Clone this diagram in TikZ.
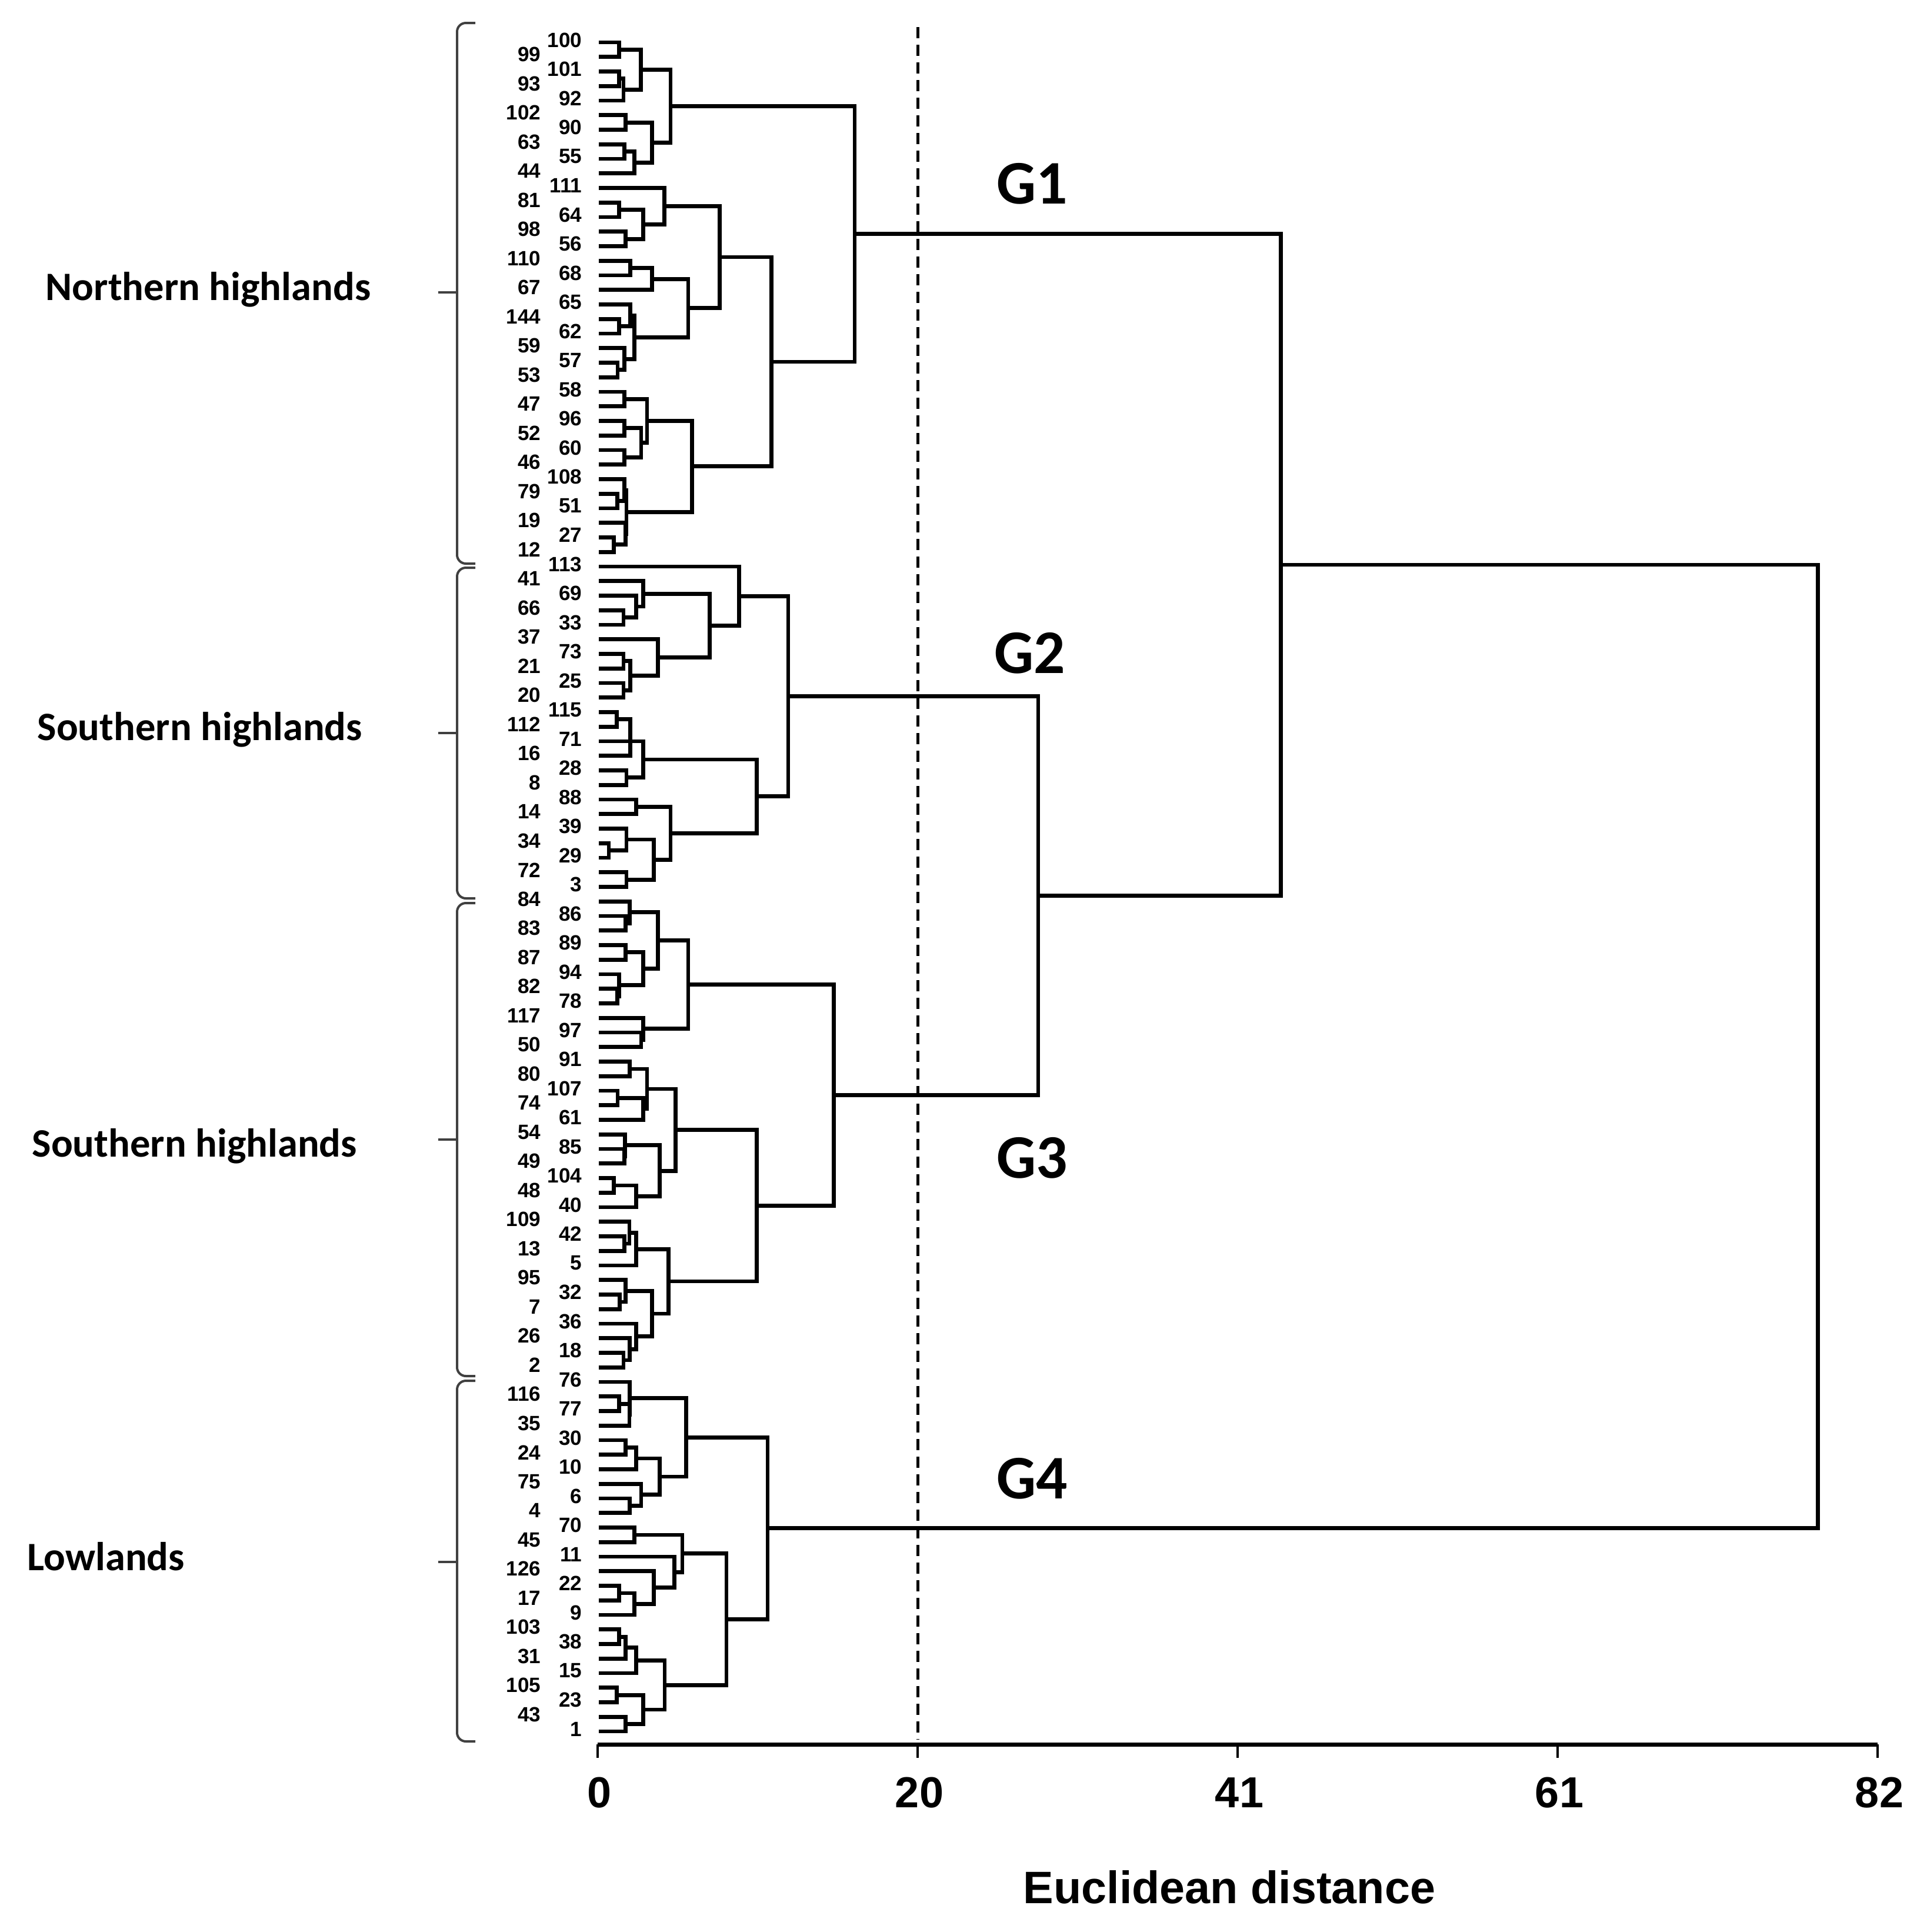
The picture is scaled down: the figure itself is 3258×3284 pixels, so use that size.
\documentclass[tikz,border=0pt]{standalone}
\usepackage{fontspec}
\setmainfont{Liberation Sans}
\newfontfamily\calibrifont{Carlito}
\usetikzlibrary{calc}
\newcommand\mg[4]{%
  \coordinate (mgx) at (#4,0);
  \coordinate (mgm) at ($(#2)!0.5!(#3)$);
  \coordinate (#1) at (mgx |- mgm);
  \draw[dl] (#2) -- (mgx |- #2) -- (mgx |- #3) -- (#3);
}
\begin{document}
\begin{tikzpicture}[x=0.1mm,y=-0.1mm,
  dl/.style={line width=0.68mm, line join=miter},
  lbl/.style={font=\fontsize{10}{11}\selectfont\bfseries, inner sep=0pt},
  reg/.style={font=\calibrifont\fontsize{19.5}{22}\selectfont\bfseries, inner sep=0pt},
  glab/.style={font=\calibrifont\fontsize{30}{34}\selectfont\bfseries, inner sep=0pt},
  ticklab/.style={font=\fontsize{21}{24}\selectfont\bfseries, inner sep=0pt},
  brk/.style={line width=0.4mm, black!75, rounded corners=1.5mm},
  dashl/.style={line width=0.5mm, dash pattern=on 1.9mm off 1.1mm}]
\useasboundingbox (0,0) rectangle (3258,3284);
\fill[white] (0,0) rectangle (3258,3284);

% leaves and labels
\foreach \lab [count=\k from 0] in {100,99,101,93,92,102,90,63,55,44,111,81,64,98,56,110,68,67,65,144,62,59,57,53,58,47,96,52,60,46,108,79,51,19,27,12,113,41,69,66,33,37,73,21,25,20,115,112,71,16,28,8,88,14,39,34,29,72,3,84,86,83,89,87,94,82,78,117,97,50,91,80,107,74,61,54,85,49,104,48,40,109,42,13,5,95,32,7,36,26,18,2,76,116,77,35,30,24,10,75,6,4,70,45,11,126,22,17,9,103,38,31,15,105,23,43,1}{
  \coordinate (L\k) at (1018,{72+24.75*\k});
  \ifodd\k
    \node[lbl,anchor=east] (lab\k) at (920,{68+24.75*\k}) {\lab};
  \else
    \node[lbl,anchor=east] (lab\k) at (990,{68+24.75*\k}) {\lab};
  \fi
}

% Northern highlands
\mg{m1}{L0}{L1}{1052.7}
\mg{m2}{L2}{L3}{1052.7}
\mg{m3}{m2}{L4}{1060}
\mg{m4}{m1}{m3}{1089.3}
\mg{m5}{L5}{L6}{1063.3}
\mg{m6}{L7}{L8}{1061.7}
\mg{m7}{m6}{L9}{1078.3}
\mg{m8}{m5}{m7}{1108.3}
\mg{nA}{m4}{m8}{1140}
\mg{m9}{L11}{L12}{1052.7}
\mg{m10}{L13}{L14}{1063.3}
\mg{m11}{m9}{m10}{1093.3}
\mg{m12}{L10}{m11}{1129.3}
\mg{m13}{L15}{L16}{1071.7}
\mg{m14}{m13}{L17}{1108.3}
\mg{m15}{L19}{L20}{1052.7}
\mg{m16}{L18}{m15}{1071.7}
\mg{m17}{L22}{L23}{1050}
\mg{m18}{L21}{m17}{1061.7}
\mg{m19}{m16}{m18}{1078.3}
\mg{m20}{m14}{m19}{1170}
\mg{nC}{m12}{m20}{1223.3}
\mg{m21}{L24}{L25}{1061.7}
\mg{m22}{L26}{L27}{1061.7}
\mg{m23}{L28}{L29}{1061.7}
\mg{m24}{m22}{m23}{1090}
\mg{m25}{m21}{m24}{1100}
\mg{m26}{L31}{L32}{1049.3}
\mg{m27}{L30}{m26}{1061.7}
\mg{m28}{L34}{L35}{1043.3}
\mg{m29}{L33}{m28}{1063.3}
\mg{m30}{m27}{m29}{1065}
\mg{nD}{m25}{m30}{1176.7}
\mg{nB}{nC}{nD}{1311.7}
\mg{nN}{nA}{nB}{1453}

% Southern highlands 1
\mg{s1}{L39}{L40}{1060}
\mg{s2}{L38}{s1}{1081.7}
\mg{s3}{L37}{s2}{1093.3}
\mg{s4}{L42}{L43}{1060}
\mg{s5}{L44}{L45}{1060}
\mg{s6}{s4}{s5}{1071.7}
\mg{s7}{L41}{s6}{1118.3}
\mg{s8}{s3}{s7}{1206.7}
\mg{s9}{L36}{s8}{1256.7}
\mg{s10}{L46}{L47}{1048.3}
\coordinate (s10x) at (1071.7,0);
\draw[dl] (s10) -- (s10x |- s10) -- (s10x |- L49) -- (L49);
\mg{s11}{L50}{L51}{1065}
\mg{s12}{L48}{s11}{1093.3}
\mg{s13}{L52}{L53}{1081.7}
\mg{s14}{L55}{L56}{1035}
\mg{s15}{L54}{s14}{1065}
\mg{s16}{L57}{L58}{1065}
\mg{s17}{s15}{s16}{1111.7}
\mg{s18}{s13}{s17}{1140}
\mg{s19}{s12}{s18}{1286.7}
\mg{nS1}{s9}{s19}{1340}

% Southern highlands 2
\mg{t1}{L60}{L61}{1063.3}
\mg{t2}{L59}{t1}{1070.7}
\mg{t3}{L62}{L63}{1063.3}
\mg{t4}{L65}{L66}{1049.3}
\mg{t5}{L64}{t4}{1052.7}
\mg{t6}{t3}{t5}{1093.3}
\mg{t7}{t2}{t6}{1118.3}
\mg{t8}{L68}{L69}{1090}
\mg{t9}{L67}{t8}{1093.3}
\mg{t10}{t7}{t9}{1170}
\mg{t11}{L70}{L71}{1070.7}
\mg{t12}{L72}{L73}{1050}
\mg{t13}{t12}{L74}{1093.3}
\mg{t14}{t11}{t13}{1100}
\mg{t15}{L76}{L77}{1061.7}
\mg{t16}{L75}{t15}{1062.5}
\mg{t17}{L78}{L79}{1043.3}
\mg{t18}{t17}{L80}{1081.7}
\mg{t19}{t16}{t18}{1121.7}
\mg{t20}{t14}{t19}{1148.3}
\mg{t21}{L82}{L83}{1061.7}
\mg{t22}{L81}{t21}{1070}
\mg{t23}{t22}{L84}{1081.7}
\mg{t24}{L86}{L87}{1053.3}
\mg{t25}{L85}{t24}{1063.3}
\mg{t26}{L90}{L91}{1060}
\mg{t27}{L89}{t26}{1070.7}
\mg{t28}{L88}{t27}{1081.7}
\mg{t29}{t25}{t28}{1108.3}
\mg{t30}{t23}{t29}{1136.7}
\mg{t31}{t20}{t30}{1286.7}
\mg{nS2}{t10}{t31}{1417.5}
\mg{nS}{nS1}{nS2}{1765}
\mg{nU}{nN}{nS}{2177.5}

% Lowlands
\mg{w1}{L93}{L94}{1052.7}
\mg{w2}{w1}{L95}{1070}
\mg{w3}{L92}{w2}{1070.7}
\mg{w4}{L96}{L97}{1063.3}
\mg{w5}{w4}{L98}{1081.7}
\mg{w6}{L100}{L101}{1070.7}
\mg{w7}{L99}{w6}{1090}
\mg{w8}{w5}{w7}{1121.7}
\mg{w9}{w3}{w8}{1166.7}
\mg{w10}{L102}{L103}{1078.3}
\mg{w11}{L106}{L107}{1052.7}
\mg{w12}{w11}{L108}{1078.3}
\mg{w13}{L105}{w12}{1111.7}
\mg{w14}{L104}{w13}{1146.7}
\mg{w15}{w10}{w14}{1160}
\mg{w16}{L109}{L110}{1052.7}
\mg{w17}{w16}{L111}{1063.3}
\mg{w18}{w17}{L112}{1081.7}
\mg{w19}{L113}{L114}{1048.3}
\mg{w20}{L115}{L116}{1063.3}
\mg{w21}{w19}{w20}{1093.3}
\mg{w22}{w18}{w21}{1130}
\mg{w23}{w15}{w22}{1235}
\mg{nW}{w9}{w23}{1305}
\mg{nR}{nU}{nW}{3090.5}

% dashed cut line
\coordinate (cutT) at (1560,46);
\coordinate (cutB) at (1560,2957);
\draw[dashl] (cutT) -- (cutB);

% group labels
\node[glab] (g1) at (1755,312) {G1};
\node[glab] (g2) at (1751,1110) {G2};
\node[glab] (g3) at (1755,1968) {G3};
\node[glab] (g4) at (1755,2513) {G4};

% brackets
\draw[brk] (808,39) -- (777,39) -- (777,958) -- (808,958);
\draw[line width=0.4mm, black!75] (777,497) -- (745,497);
\draw[brk] (808,965) -- (777,965) -- (777,1527) -- (808,1527);
\draw[line width=0.4mm, black!75] (777,1246) -- (745,1246);
\draw[brk] (808,1535) -- (777,1535) -- (777,2339) -- (808,2339);
\draw[line width=0.4mm, black!75] (777,1937) -- (745,1937);
\draw[brk] (808,2347) -- (777,2347) -- (777,2960) -- (808,2960);
\draw[line width=0.4mm, black!75] (777,2655) -- (745,2655);

% region labels
\node[reg, anchor=base west] (nh) at (77,510) {Northern highlands};
\node[reg, anchor=base west] (sh1) at (63,1258) {Southern highlands};
\node[reg, anchor=base west] (sh2) at (54,1966) {Southern highlands};
\node[reg, anchor=base west] (low) at (46,2669) {Lowlands};

% axis
\coordinate (ax0) at (1016,2965);
\coordinate (ax1) at (3192,2965);
\draw[line width=0.7mm] (ax0) -- (ax1);
\foreach \xv/\tl [count=\j] in {1016/0,1560/20,2104/41,2648/61,3192/82}{
  \draw[line width=0.4mm] (\xv,2965) -- (\xv,2988);
  \node[ticklab, anchor=base] (tk\j) at (\xv+3,3072) {\tl};
}
\node[font=\fontsize{22}{26}\selectfont\bfseries, inner sep=0pt, anchor=base] (xlab) at (2090,3235) {Euclidean distance};
\end{tikzpicture}
\end{document}
